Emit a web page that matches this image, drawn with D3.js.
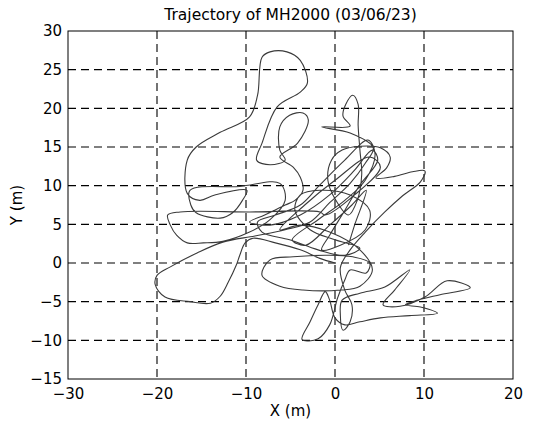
<!DOCTYPE html>
<meta charset="utf-8">
<style>
body{ margin:0; background:#fff; }
svg text{ font-family: "DejaVu Sans", sans-serif; fill:#000; }
.grid line{ stroke:#000; stroke-width:1.1; stroke-dasharray:8,5; }
.frame{ fill:none; stroke:#000; stroke-width:1; }
.track{ fill:none; stroke:#3a3a3a; stroke-width:1.1; stroke-linejoin:round; }
.tick-label{ font-size:15px; }
</style>
<svg width="553" height="429"></svg>
<script src="https://d3js.org/d3.v7.min.js"></script>
<script>

var title = 'Trajectory of MH2000 (03/06/23)';
var xTicks = [-30, -20, -10, 0, 10, 20];
var yTicks = [-15, -10, -5, 0, 5, 10, 15, 20, 25, 30];

// positions in metres
var trackX = [0, -1.7, -3.9, -6.7, -9.2, -10.1, -10.7, -11.1, -12.0, -12.9, -14.0, -16.3, -19.1, -20.2, -20.0, -18.5, -15.5, -12.6, -9.0, -5.6, -2.8,
    -0.6, 1.7, 3.4, 4.3, 1.7, -1.5, 1.7, 0.9, 1.2, 2.0, 2.6, 2.6, 2.8, 3.0, 2.5, 1.5,
    0.1, -0.8, -0.4, 0.8, 2.8, 5.1, 6.2, 5.8, 4.6,
    6.7, 8.7, 10.1, 9.6, 7.6, 5.6, 3.4, 1.7,
    0.6, 1.1, 1.9, 1.7, 0.9, 0.6, 0.8, 2.8, 5.6, 8.4, 6.7, 5.4, 7.3, 10.1, 12.6, 15.2, 11.8, 9.3, 7.9, 9.6, 11.5, 8.4, 5.1, 2.8,
    1.1, 0, -0.6, -1.1, -1.9, -2.8, -3.7, -1.9, -0.6, 0.3, 1.1, 1.7, 3.5, 3.9, 2.0, -0.9, -4.7, -7.3, -8.2, -6.2, -3.6, 0.6, 2.8,
    4.2, 2.8, -0.6, -3.9, -6.2, -3.4, 0, 3.9, 5.1, 2.2, -1.1, -1.7, -9.6, -17.4, -18.8, -18.5, -17.8, -16.6, -14.8, -12.6, -9.6, -7.3, -5.6, -6.2,
    -10.7, -16.3, -16.2, -15.6, -12.9, -11.5, -10.4, -9.9, -13.5, -15.2, -16.6,
    -16.6, -15.6, -12.9, -9.6, -8.7, -8.2, -7.3, -5.4, -3.9, -3.1, -3.9, -6.5, -8.2, -8.8, -7.3, -5.6,
    -6.2, -6.2, -5.1, -3.6, -3.0, -4.2, -6.2, -4.7, -3.9, -3.6, -4.5, -5.6, -7.9, -9.6,
    -7.3, -3.9, -0.6, 2.2, 4.2, 4.8, 2.8, 1.1, -0.6, -1.5, 0.6, 3.4, 3.9, 1.7, -1.7, -3.9, -4.5, -2.8, 0, 2.8,
    1.1, -1.9, -5.1, -8.2, -8.7, -6.7, -3.9, -1.7, 1.1, 3.7, 4.5, 3.4, 1.1, -1.9, -4.8, -3.3, -0.6, 1.9, 3.5, 2.2, 1.5];
var trackY = [0, 0.6, 1.7, 2.6, 3.2, 2.6, 1.0, -0.3, -2.5, -4.3, -5.2, -5.0, -4.4, -2.8, -1.6, -0.5, 1.3, 2.7, 3.5, 4.3, 5.3,
    7.8, 10.3, 12.9, 14.9, 16.8, 17.6, 17.7, 19.0, 20.5, 21.7, 20.5, 17.8, 14.6, 11.4, 8.1, 6.2,
    8.1, 10.7, 13.3, 14.6, 15.1, 14.9, 13.7, 12.3, 11.0,
    11.2, 11.8, 11.9, 10.5, 8.7, 6.6, 4.0, 1.7,
    -0.6, -3.5, -5.4, -7.6, -8.7, -6.7, -4.8, -3.9, -3.1, -0.9, -3.5, -5.4, -5.6, -4.4, -2.3, -3.2, -4.1, -4.8, -5.4, -5.7, -6.5, -6.8, -7.1, -7.6,
    -8.0, -7.1, -4.8, -3.7, -5.4, -7.6, -9.9, -9.8, -8.0, -4.5, -2.2, -0.9, -1.3, 0, 0.8, 1.0, 0.8, 0.4, -1.6, -3.0, -3.5, -3.5, -3.0,
    -0.9, 1.7, 4.0, 4.9, 4.3, 7.5, 10.7, 13.7, 12.4, 8.8, 6.2, 6.6, 6.6, 6.6, 6.2, 4.9, 3.6, 2.6, 2.6, 2.8, 4.0, 5.6, 8.1, 10.3,
    9.9, 9.4, 7.5, 6.5, 5.8, 6.5, 8.1, 9.4, 8.8, 8.1, 9.0,
    13.3, 15.0, 16.9, 18.9, 21.7, 26.6, 27.3, 27.3, 26.2, 23.3, 22.1, 20.2, 15.5, 13.3, 12.7, 13.3,
    14.6, 17.6, 19.1, 19.4, 18.5, 15.5, 13.7, 12.4, 11.1, 9.4, 8.1, 7.5, 6.2, 5.3,
    4.9, 6.2, 8.8, 12.0, 14.6, 13.3, 10.1, 6.8, 3.6, 1.7, 2.3, 4.3, 6.8, 8.8, 9.4, 8.8, 6.8, 4.3, 3.0, 1.9,
    1.0, 1.7, 3.0, 4.0, 5.3, 6.2, 7.5, 10.1, 13.3, 15.9, 14.1, 10.7, 8.1, 5.6, 3.0, 2.3, 4.9, 7.5, 9.4, 4.9, 2.3];

var svg = d3.select('svg');
var margin = {top:31, right:40, bottom:50, left:68};
var width = 553 - margin.left - margin.right;
var height = 429 - margin.top - margin.bottom;

var x = d3.scaleLinear().domain([-30, 20]).range([0, width]);
var y = d3.scaleLinear().domain([-15, 30]).range([height, 0]);

var g = svg.append('g').attr('transform', 'translate(' + margin.left + ',' + margin.top + ')');

var fmt = function(d){ return d < 0 ? '\u2212' + Math.abs(d) : String(d); };

// dashed grid
var grid = g.append('g').attr('class', 'grid');
grid.selectAll('line.v')
    .data(xTicks.slice(1, -1))
    .enter().append('line')
        .attr('x1', function(d){ return x(d); })
        .attr('x2', function(d){ return x(d); })
        .attr('y1', 0).attr('y2', height);
grid.selectAll('line.h')
    .data(yTicks.slice(1, -1))
    .enter().append('line')
        .attr('y1', function(d){ return y(d); })
        .attr('y2', function(d){ return y(d); })
        .attr('x1', 0).attr('x2', width);

// trajectory
var pts = trackX.map(function(d, i){ return [d, trackY[i]]; });
var line = d3.line()
    .x(function(d){ return x(d[0]); })
    .y(function(d){ return y(d[1]); })
    .curve(d3.curveCatmullRom.alpha(0.5));
g.append('path')
    .datum(pts)
    .attr('class', 'track')
    .attr('d', line);

g.append('rect')
    .attr('class', 'frame')
    .attr('width', width)
    .attr('height', height);

// axes
var xAxis = d3.axisBottom(x).tickValues(xTicks).tickFormat(fmt).tickSize(0).tickPadding(6);
var yAxis = d3.axisLeft(y).tickValues(yTicks).tickFormat(fmt).tickSize(0).tickPadding(6);

g.append('g')
    .attr('transform', 'translate(0,' + height + ')')
    .call(xAxis)
    .call(function(s){ s.select('.domain').remove(); })
    .selectAll('text').attr('class', 'tick-label').attr('dy', '0.9em');

g.append('g')
    .call(yAxis)
    .call(function(s){ s.select('.domain').remove(); })
    .selectAll('text').attr('class', 'tick-label');

g.selectAll('.tick text').style('font-family', '"DejaVu Sans", sans-serif').style('font-size', '15px');

svg.append('text')
    .attr('x', margin.left + width / 2)
    .attr('y', 20)
    .attr('text-anchor', 'middle')
    .style('font-size', '15.5px')
    .text(title);

svg.append('text')
    .attr('x', margin.left + width / 2)
    .attr('y', 416)
    .attr('text-anchor', 'middle')
    .style('font-size', '15px')
    .text('X (m)');

svg.append('text')
    .attr('transform', 'translate(22,' + (margin.top + height / 2) + ') rotate(-90)')
    .attr('text-anchor', 'middle')
    .style('font-size', '15px')
    .text('Y (m)');

</script>
